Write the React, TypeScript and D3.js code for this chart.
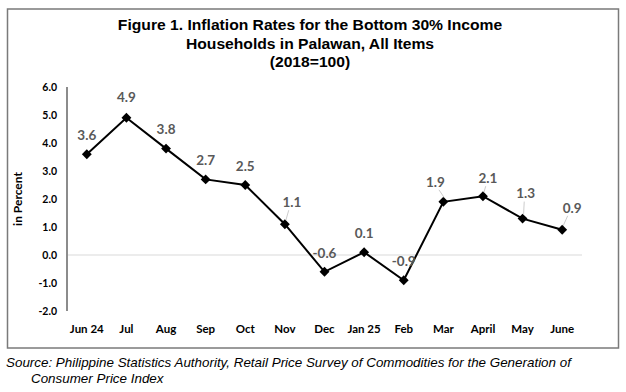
import * as d3 from "d3";

// ---------- Data ----------
const months = ["Jun 24", "Jul", "Aug", "Sep", "Oct", "Nov", "Dec", "Jan 25", "Feb", "Mar", "April", "May", "June"];
const rates = [3.6, 4.9, 3.8, 2.7, 2.5, 1.1, -0.6, 0.1, -0.9, 1.9, 2.1, 1.3, 0.9];
const yTicks = [-2, -1, 0, 1, 2, 3, 4, 5, 6];
const titleLines = [
  "Figure 1. Inflation Rates for the Bottom 30% Income",
  "Households in Palawan, All Items",
  "(2018=100)",
];
const sourceLines = [
  "Source: Philippine Statistics Authority, Retail Price Survey of Commodities for the Generation of",
  "Consumer Price Index",
];

// label nudges (dx, dy from the point) and whether a leader line is drawn
const labelNudge: [number, number, boolean][] = [
  [0, -19, false],
  [0, -21, false],
  [0, -19, false],
  [0, -19, false],
  [0, -19, false],
  [7, -22, true],
  [0, -19, false],
  [0, -19, false],
  [0, -19, false],
  [-8, -20, true],
  [5, -18, true],
  [3, -25, true],
  [10, -22, true],
];

const W = 626;
const H = 392;
const TICK_FONT = "Lato, 'Open Sans', sans-serif";
const fmt = (v: number) => d3.format(".1f")(v).replace("\u2212", "-");

export default function App() {
  const x = d3.scalePoint<string>().domain(months).range([67, 582]).padding(0.5);
  const y = d3.scaleLinear().domain([-2, 6]).range([311, 87]);

  const line = d3
    .line<number>()
    .x((_d, i) => x(months[i]) as number)
    .y((d) => y(d));

  const diamond = d3.symbol().type(d3.symbolDiamond2).size(62)() ?? "";

  return (
    <svg
      width={W}
      height={H}
      style={{ position: "absolute", left: 0, top: 0, background: "#fff" }}
    >
      <rect x={7.5} y={9} width={611} height={339} fill="#fff" stroke="#7a7a7a" strokeWidth={1.5} />

      {/* Title (slightly wide, as in the source image) */}
      <g
        fontFamily="'Liberation Sans', Arial, sans-serif"
        fontWeight="bold"
        fontSize={14.5}
        textAnchor="middle"
        fill="#000"
        transform="translate(310,0) scale(1.08,1)"
      >
        {titleLines.map((t, i) => (
          <text key={i} x={0} y={30.5 + i * 18.5}>
            {t}
          </text>
        ))}
      </g>

      {/* Zero gridline */}
      <line x1={67} x2={582} y1={y(0)} y2={y(0)} stroke="#d9d9d9" strokeWidth={1} />

      {/* Y axis */}
      <line x1={67} x2={67} y1={y(6)} y2={y(-2)} stroke="#8c8c8c" strokeWidth={2} />
      <g fontFamily={TICK_FONT} fontWeight="bold" fontSize={10.5} textAnchor="end" fill="#000">
        {yTicks.map((t) => (
          <text key={t} x={57} y={y(t)} dy="0.35em">
            {fmt(t)}
          </text>
        ))}
      </g>
      <text
        transform={`translate(22,${(y(6) + y(-2)) / 2}) rotate(-90)`}
        textAnchor="middle"
        fontFamily={TICK_FONT}
        fontWeight="bold"
        fontSize={12}
        fill="#000"
      >
        in Percent
      </text>

      {/* X labels */}
      <g fontFamily={TICK_FONT} fontWeight="bold" fontSize={11.5} textAnchor="middle" fill="#000">
        {months.map((m) => (
          <text key={m} x={x(m)} y={333}>
            {m}
          </text>
        ))}
      </g>

      {/* Line and markers */}
      <path d={line(rates) ?? ""} fill="none" stroke="#000" strokeWidth={2} />
      {rates.map((v, i) => (
        <path key={i} d={diamond} transform={`translate(${x(months[i])},${y(v)})`} fill="#000" />
      ))}

      {/* Data labels */}
      {rates.map((v, i) => {
        const px = x(months[i]) as number;
        const py = y(v);
        const [dx, dy, lead] = labelNudge[i];
        return (
          <g key={i}>
            {lead && (
              <line x1={px + dx * 0.55} y1={py + dy + 8} x2={px + 1} y2={py - 4} stroke="#bfbfbf" strokeWidth={0.8} />
            )}
            <text
              x={px + dx}
              y={py + dy}
              dy="0.35em"
              textAnchor="middle"
              fontFamily={TICK_FONT}
              fontWeight="bold"
              fontSize={13.5}
              fill="#595959"
            >
              {fmt(v)}
            </text>
          </g>
        );
      })}

      {/* Source */}
      <g fontFamily="'Liberation Sans', Arial, sans-serif" fontStyle="italic" fontSize={13.4} fill="#000">
        <text x={6} y={367}>
          {sourceLines[0]}
        </text>
        <text x={31} y={383}>
          {sourceLines[1]}
        </text>
      </g>
    </svg>
  );
}
